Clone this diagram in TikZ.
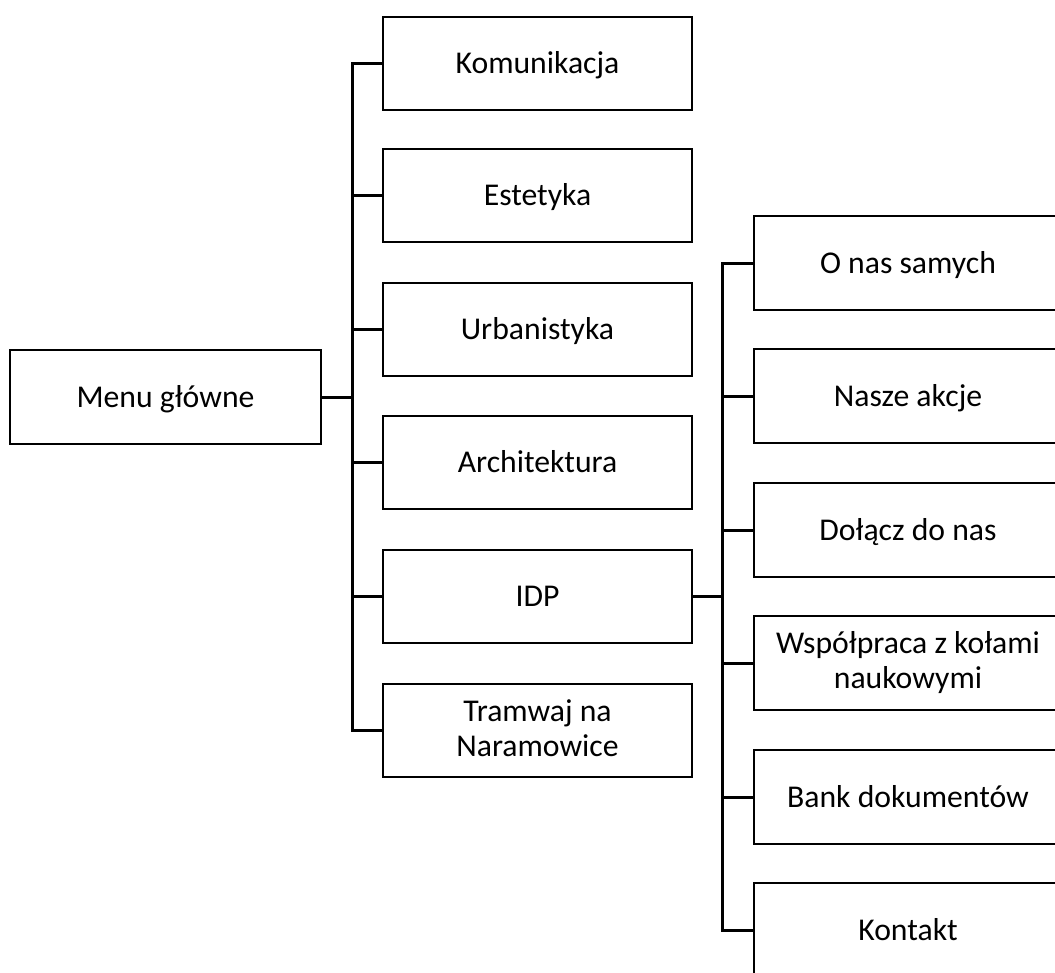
\documentclass[tikz,border=0pt]{standalone}
\usepackage{fontspec}
\setmainfont{Carlito}
\begin{document}
\begin{tikzpicture}[x=1pt,y=-1pt,
  box/.style={draw=black,line width=2pt,rectangle,align=center,inner sep=0pt,
    text height=20pt,text depth=0pt,
    font=\fontsize{31.7}{35}\selectfont},
  two/.style={text height=53pt,text depth=2pt},
  c2/.style={box,minimum width=309pt,minimum height=93pt},
  c3/.style={box,minimum width=308pt,minimum height=94pt},
  link/.style={draw=black,line width=3pt}]
\useasboundingbox (0,0) rectangle (1055,972);
\clip (0,0) rectangle (1055,972);
\fill[white] (0,0) rectangle (1055,972);
\node[box,minimum width=311pt,minimum height=94pt] (menu) at (165.5,397) {Menu główne};
\node[c2] (kom) at (537.5,63.5) {Komunikacja};
\node[c2] (est) at (537.5,195.5) {Estetyka};
\node[c2] (urb) at (537.5,329.5) {Urbanistyka};
\node[c2] (arc) at (537.5,462.5) {Architektura};
\node[c2] (idp) at (537.5,596.5) {IDP};
\node[c2,two] (tra) at (537.5,730.5) {Tramwaj na\\Naramowice};
\node[c3] (ons) at (908,263) {O nas samych};
\node[c3] (nas) at (908,396) {Nasze akcje};
\node[c3] (dol) at (908,530) {Dołącz do nas};
\node[c3,two] (wsp) at (908,663) {Współpraca z kołami\\naukowymi};
\node[c3] (ban) at (908,797) {Bank dokumentów};
\node[c3] (kon) at (908,930) {Kontakt};
\coordinate (t) at (352,397);
\coordinate (u) at (722,596.5);
\draw[link] (menu.east) -- (t);
\foreach \n in {kom,est,urb,arc,idp,tra} \draw[link] (\n.west) -| (t);
\draw[link] (idp.east) -- (u);
\foreach \n in {ons,nas,dol,wsp,ban,kon} \draw[link] (\n.west) -| (u);
\end{tikzpicture}
\end{document}
